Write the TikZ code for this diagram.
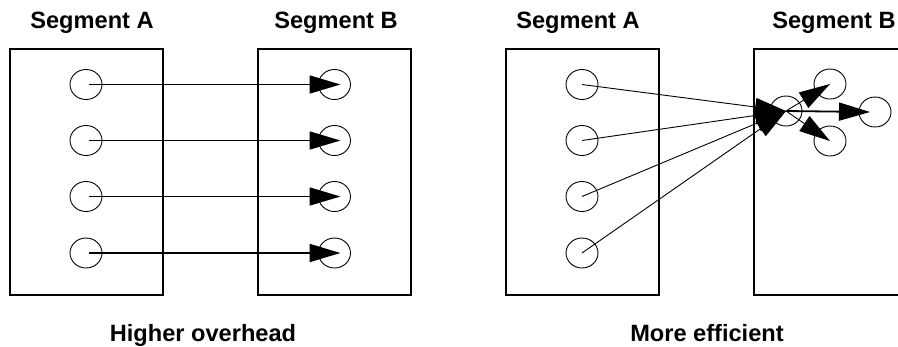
\documentclass[tikz,border=0pt]{standalone}
\usepackage{fontspec}
\setmainfont{Liberation Sans}
\usetikzlibrary{arrows.meta,shapes.geometric}
\begin{document}
\begin{tikzpicture}[x=1pt,y=-1pt,
  segbox/.style={draw,line width=2pt,inner sep=0pt,minimum height=246pt},
  dot/.style={draw,ellipse,line width=0.9pt,inner sep=0pt,minimum width=32pt,minimum height=30pt},
  conn/.style={line width=1.8pt,-{Triangle[length=31pt,width=18pt]}},
  thinconn/.style={line width=0.9pt,-{Triangle[length=31pt,width=18pt]}},
  lbl/.style={font=\fontsize{23.6}{28}\selectfont\bfseries,anchor=base,inner sep=0pt}]
\useasboundingbox (0,0) rectangle (898,346);

% ---- one-to-one mapping ----
\node[lbl] (ta) at (92,28.5) {Segment A};
\node[lbl] (tb) at (336,28.5) {Segment B};
\node[segbox,minimum width=153pt] (sa) at (86.5,172) {};
\node[segbox,minimum width=153pt] (sb) at (334.5,172) {};
\foreach \i/\y in {1/84.5,2/140.5,3/196.5,4/253} {
  \node[dot] (a\i) at (86,\y) {};
  \node[dot] (b\i) at (334.5,\y) {};
}
\foreach \i in {1,...,4}
  \draw[conn] ([xshift=3pt]a\i.center) -- ([xshift=6pt]b\i.center);
\node[lbl] (tl) at (203,341) {Higher overhead};

% ---- shared entry point ----
\node[lbl] (tc) at (578,28.5) {Segment A};
\node[lbl] (td) at (834,28.5) {Segment B};
\node[segbox,minimum width=153pt] (sc) at (582.5,172) {};
\node[segbox,minimum width=156pt] (sd) at (832,172) {};
\foreach \i/\y in {1/84.5,2/140.5,3/196.5,4/253}
  \node[dot] (r\i) at (582,\y) {};
\node[dot] (c0) at (786,111) {};
\node[dot] (c1) at (830,84) {};
\node[dot] (c2) at (875,112) {};
\node[dot] (c3) at (830,141) {};
\foreach \i in {1,...,4}
  \draw[thinconn] (r\i.center) -- (c0.center);
\draw[thinconn] (c0.center) -- (c1.center);
\draw[conn] (c0.center) -- ([xshift=-5pt]c2.center);
\draw[thinconn] (c0.center) -- (c3.center);
\node[lbl] (tr) at (707,341) {More efficient};
\end{tikzpicture}
\end{document}
